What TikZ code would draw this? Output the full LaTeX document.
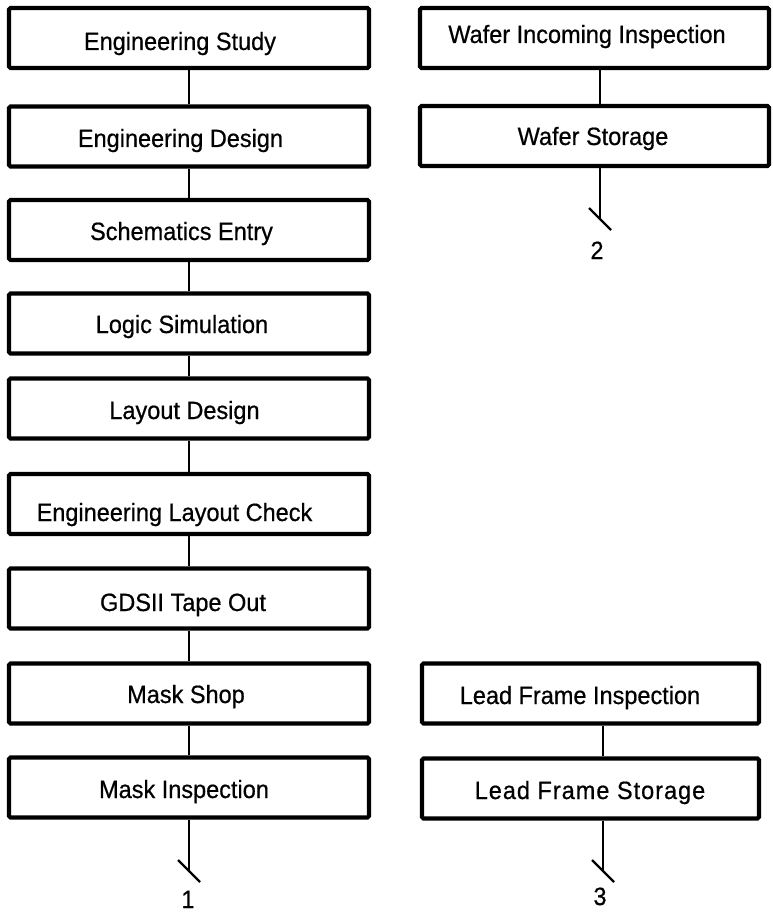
\documentclass[tikz,border=0pt]{standalone}
\usepackage{fontspec}
\setmainfont[FakeStretch=0.94, FakeBold=0.6]{Liberation Sans}
\usetikzlibrary{calc}
\begin{document}
\begin{tikzpicture}[x=1pt,y=-1pt,
  boxL/.style={draw, line width=4.2pt, rounded corners=1.5pt, minimum width=360pt, minimum height=60pt, inner sep=0pt},
  boxW/.style={draw, line width=4.2pt, rounded corners=1.5pt, minimum width=349pt, minimum height=60pt, inner sep=0pt},
  boxF/.style={draw, line width=4.2pt, rounded corners=1.5pt, minimum width=337pt, minimum height=60pt, inner sep=0pt},
  txt/.style={anchor=base, inner sep=0pt, font=\fontsize{25}{30}\selectfont},
  link/.style={line width=2.2pt},
  endmark/.style={line width=2.2pt}]
\useasboundingbox (0,0) rectangle (772,912);
% left column boxes
\node[boxL] (es)  at (189,38)    {};
\node[boxL] (ed)  at (189,136.5) {};
\node[boxL] (se)  at (189,230)   {};
\node[boxL] (ls)  at (189,323.5) {};
\node[boxL] (ld)  at (189,408.5) {};
\node[boxL] (elc) at (189,504)   {};
\node[boxL] (gds) at (189,598.5) {};
\node[boxL] (ms)  at (189,693.5) {};
\node[boxL] (mi)  at (189,787.5) {};
% left texts
\node[txt] (tes)  at (180,50)    {Engineering Study};
\node[txt] (ted)  at (180.5,147) {Engineering Design};
\node[txt] (tse)  at (181.5,240) {Schematics Entry};
\node[txt] (tls)  at (182,333)   {Logic Simulation};
\node[txt] (tld)  at (184.5,419) {Layout Design};
\node[txt] (telc) at (174.5,521) {Engineering Layout Check};
\node[txt] (tgds) at (183,611)   {GDSII Tape Out};
\node[txt] (tms)  at (186,703)   {Mask Shop};
\node[txt] (tmi)  at (184,798)   {Mask Inspection};
% right column boxes
\node[boxW] (wii) at (594.5,38)  {};
\node[boxW] (ws)  at (594.5,136) {};
\node[boxF] (lfi) at (590.5,693.5) {};
\node[boxF] (lfs) at (590.5,788.5) {};
\node[txt] (twii) at (587,43)   {Wafer Incoming Inspection};
\node[txt] (tws)  at (593,145)  {Wafer Storage};
\node[txt] (tlfi) at (580,704)  {Lead Frame Inspection};
\node[txt] (tlfs) at (590,799)  {\addfontfeatures{LetterSpace=4}Lead Frame Storage};
% left connectors
\draw[link] (es.south) -- (ed.north);
\draw[link] (ed.south) -- (se.north);
\draw[link] (se.south) -- (ls.north);
\draw[link] (ls.south) -- (ld.north);
\draw[link] (ld.south) -- (elc.north);
\draw[link] (elc.south) -- (gds.north);
\draw[link] (gds.south) -- (ms.north);
\draw[link] (ms.south) -- (mi.north);
% right connectors
\coordinate (wx) at (600,0);
\coordinate (fx) at (603,0);
\draw[link] (wii.south -| wx) -- (ws.north -| wx);
\draw[link] (lfi.south -| fx) -- (lfs.north -| fx);
% off-page ends
\coordinate (e1) at (189,871);
\coordinate (e2) at (600,219);
\coordinate (e3) at (603,871);
\draw[link] (mi.south) -- (e1);
\draw[link] (ws.south -| wx) -- (e2);
\draw[link] (lfs.south -| fx) -- (e3);
\draw[endmark] ($(e1)+(-11,-11)$) -- ($(e1)+(11,11)$);
\draw[endmark] ($(e2)+(-11,-11)$) -- ($(e2)+(11,11)$);
\draw[endmark] ($(e3)+(-11,-11)$) -- ($(e3)+(11,11)$);
\node[txt] (n1) at (188,908) {1};
\node[txt] (n2) at (597,259) {2};
\node[txt] (n3) at (600,905) {3};
\end{tikzpicture}
\end{document}
